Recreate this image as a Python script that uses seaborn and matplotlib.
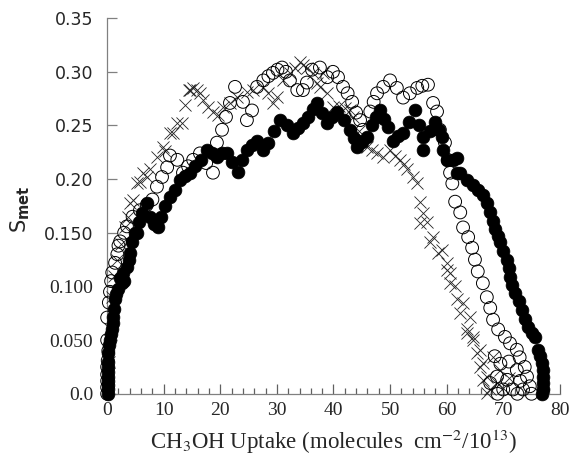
import matplotlib
matplotlib.use("Agg")
import matplotlib.pyplot as plt
from matplotlib.ticker import MultipleLocator
import seaborn as sns

# filled circles
filled_x = [0.1, 0.1, 0.1, 0.1, 0.1, 0.1, 0.2, 0.2, 0.2, 0.4, 0.5, 0.6, 0.9, 1.0, 1.1, 1.2, 1.4, 1.6,
            2.0, 2.6, 2.2, 2.8, 3.5, 3.0, 3.8, 4.1, 4.4, 4.9, 5.3, 5.6, 6.2, 7.1, 7.6, 8.2, 9.0, 9.5,
            10.2, 11.1, 12.0, 12.9, 13.8, 14.7, 15.6, 16.5, 17.7, 18.5, 19.4, 20.3, 21.2, 22.0, 23.1,
            23.8, 24.7, 25.6, 26.5, 27.6, 28.5, 29.5, 30.6, 31.7, 32.9, 33.7, 34.6, 35.5, 36.3, 37.1,
            38.0, 38.9, 39.7, 40.6, 41.8, 42.9, 43.6, 44.2, 45.0, 45.9, 46.8, 47.5, 48.2, 48.9, 49.6,
            50.5, 51.4, 52.3, 53.3, 54.4, 55.1, 55.8, 55.8, 57.0, 57.9, 58.6, 59.2, 59.4, 60.1, 61.1,
            61.8, 61.8, 62.4, 63.6, 64.7, 65.5, 66.4, 67.1, 67.7, 68.2, 68.6, 69.0, 69.4, 70.0, 70.7,
            71.0, 71.2, 71.6, 72.1, 72.7, 73.3, 73.9, 74.4, 75.0, 75.6, 76.1, 76.5, 76.9, 77.0, 77.0,
            77.0, 77.0, 76.8]
filled_y = [0.000, 0.004, 0.008, 0.012, 0.016, 0.020, 0.025, 0.030, 0.038, 0.045, 0.050, 0.056, 0.060,
            0.066, 0.072, 0.079, 0.088, 0.093, 0.098, 0.103, 0.108, 0.113, 0.118, 0.105, 0.125, 0.131,
            0.141, 0.150, 0.150, 0.160, 0.168, 0.178, 0.165, 0.158, 0.155, 0.165, 0.175, 0.183, 0.190,
            0.199, 0.203, 0.206, 0.212, 0.218, 0.227, 0.224, 0.221, 0.224, 0.224, 0.216, 0.207, 0.218,
            0.227, 0.232, 0.236, 0.227, 0.234, 0.245, 0.255, 0.250, 0.243, 0.248, 0.252, 0.258, 0.265,
            0.271, 0.262, 0.252, 0.258, 0.263, 0.255, 0.246, 0.238, 0.230, 0.235, 0.239, 0.250, 0.258,
            0.264, 0.256, 0.249, 0.236, 0.240, 0.243, 0.253, 0.264, 0.250, 0.239, 0.227, 0.245, 0.253,
            0.246, 0.239, 0.227, 0.218, 0.218, 0.220, 0.206, 0.206, 0.199, 0.195, 0.190, 0.185, 0.178,
            0.169, 0.161, 0.154, 0.147, 0.141, 0.133, 0.125, 0.117, 0.109, 0.101, 0.094, 0.086, 0.078,
            0.070, 0.062, 0.057, 0.053, 0.041, 0.035, 0.029, 0.022, 0.016, 0.010, 0.004, 0.000]

# open circles
open_x = [0.0, 0.0, 0.0, 0.0, 0.0, 0.1, 0.2, 0.0, 0.0, 0.3, 0.5, 0.7, 0.9, 1.4, 1.8, 2.3, 2.0, 3.0,
          3.5, 4.5, 5.8, 7.0, 8.0, 8.8, 9.7, 10.6, 11.1, 12.4, 13.4, 14.3, 15.2, 16.4, 17.5, 18.7,
          19.4, 20.3, 21.0, 21.7, 22.6, 24.0, 24.7, 25.6, 26.5, 27.6, 28.5, 29.3, 30.1, 30.9, 31.6,
          32.3, 33.6, 34.6, 35.3, 36.2, 37.6, 38.9, 39.9, 40.8, 41.7, 42.5, 43.3, 44.0, 44.7, 45.2,
          46.5, 47.1, 47.7, 48.8, 50.0, 51.2, 52.3, 53.5, 54.8, 55.7, 56.7, 57.6, 58.3, 58.8, 59.7,
          60.2, 60.6, 61.0, 61.5, 62.4, 62.9, 63.8, 64.5, 65.0, 65.5, 66.4, 67.1, 67.7, 68.2, 69.1,
          70.3, 71.2, 72.4, 72.9, 73.8, 74.2, 72.4, 70.7, 68.9, 71.7, 73.5, 70.0, 67.7, 74.7, 69.5,
          71.0, 68.5, 73.0, 75.0, 72.5, 69.0]
open_y = [0.000, 0.006, 0.012, 0.018, 0.025, 0.031, 0.040, 0.050, 0.071, 0.085, 0.095, 0.105, 0.113,
          0.122, 0.130, 0.142, 0.138, 0.150, 0.156, 0.165, 0.171, 0.176, 0.181, 0.193, 0.202, 0.211,
          0.222, 0.218, 0.206, 0.212, 0.218, 0.224, 0.215, 0.206, 0.234, 0.246, 0.258, 0.271, 0.286,
          0.272, 0.255, 0.264, 0.286, 0.292, 0.296, 0.299, 0.302, 0.304, 0.300, 0.292, 0.283, 0.283,
          0.290, 0.302, 0.304, 0.295, 0.300, 0.295, 0.286, 0.280, 0.272, 0.262, 0.255, 0.246, 0.263,
          0.272, 0.280, 0.286, 0.292, 0.285, 0.276, 0.280, 0.285, 0.287, 0.288, 0.271, 0.263, 0.246,
          0.234, 0.218, 0.206, 0.196, 0.179, 0.169, 0.155, 0.146, 0.136, 0.125, 0.114, 0.103, 0.090,
          0.080, 0.069, 0.060, 0.053, 0.047, 0.041, 0.034, 0.025, 0.016, 0.022, 0.013, 0.016, 0.004,
          0.004, 0.004, 0.010, 0.007, 0.028, 0.030, 0.035, 0.012, 0.000, 0.000, 0.000]

# crosses
cross_x = [0.3, 0.5, 0.8, 1.2, 1.8, 2.5, 3.2, 3.6, 4.1, 4.6, 5.3, 5.8, 6.4, 7.1, 7.6, 8.8, 9.9, 10.2,
           11.1, 11.7, 12.4, 13.3, 13.8, 14.4, 14.7, 15.2, 15.9, 16.4, 17.0, 17.8, 18.7, 19.6, 20.5,
           21.7, 23.0, 24.7, 25.8, 27.6, 28.5, 29.3, 30.0, 31.1, 32.3, 33.2, 34.1, 34.6, 35.3, 36.4,
           37.1, 37.6, 38.2, 38.8, 39.9, 41.0, 42.0, 42.9, 43.5, 44.5, 45.9, 46.8, 47.7, 48.8, 50.0,
           50.9, 51.8, 52.4, 53.0, 54.1, 54.8, 55.3, 55.3, 55.8, 56.5, 57.1, 57.6, 58.5, 59.2, 60.1,
           60.1, 60.6, 60.6, 61.5, 61.8, 62.4, 62.9, 63.6, 63.6, 64.1, 64.7, 64.7, 65.4, 65.9, 65.9,
           66.4, 66.4, 67.1, 67.1, 67.7, 68.2, 68.9, 69.4, 70.0, 71.0]
cross_y = [0.030, 0.060, 0.090, 0.110, 0.125, 0.140, 0.155, 0.165, 0.178, 0.181, 0.196, 0.197, 0.206,
           0.202, 0.209, 0.221, 0.230, 0.226, 0.243, 0.243, 0.252, 0.252, 0.269, 0.283, 0.283, 0.285,
           0.283, 0.280, 0.274, 0.267, 0.263, 0.260, 0.267, 0.271, 0.277, 0.281, 0.283, 0.286, 0.280,
           0.271, 0.277, 0.292, 0.299, 0.304, 0.309, 0.306, 0.304, 0.299, 0.290, 0.286, 0.299, 0.280,
           0.267, 0.268, 0.266, 0.264, 0.258, 0.245, 0.230, 0.227, 0.224, 0.221, 0.227, 0.222, 0.218,
           0.214, 0.209, 0.202, 0.196, 0.179, 0.159, 0.168, 0.160, 0.141, 0.146, 0.131, 0.134, 0.122,
           0.115, 0.113, 0.103, 0.100, 0.088, 0.075, 0.085, 0.060, 0.057, 0.072, 0.053, 0.050, 0.038,
           0.041, 0.025, 0.029, 0.013, 0.016, 0.001, 0.004, 0.034, 0.010, 0.022, 0.005, 0.015]

y_ticks = [0.0, 0.05, 0.10, 0.15, 0.20, 0.25, 0.30, 0.35]
y_tick_labels = ["0.0", "0.050", "0.100", "0.150", "0.20", "0.25", "0.30", "0.35"]
x_ticks = [0, 10, 20, 30, 40, 50, 60, 70, 80]

sns.set_style("white")
plt.rcParams["font.family"] = ["Liberation Serif", "DejaVu Serif"]

fig = plt.figure(figsize=(5.73, 4.66), dpi=100)
ax = fig.add_axes([0.187, 0.155, 0.79, 0.806])

sns.scatterplot(x=cross_x, y=cross_y, marker="x", s=75, color="#222222", linewidth=0.6,
                ax=ax, clip_on=False, zorder=3)
sns.scatterplot(x=open_x, y=open_y, marker="o", s=85, color="black", facecolor="none",
                edgecolor="black", linewidth=0.7, ax=ax, clip_on=False, zorder=4)
sns.scatterplot(x=filled_x, y=filled_y, marker="o", s=85, color="black", edgecolor="black",
                linewidth=0.5, ax=ax, clip_on=False, zorder=5)

ax.set_xlim(0, 80)
ax.set_ylim(0, 0.35)
ax.set_xticks(x_ticks)
ax.xaxis.set_minor_locator(MultipleLocator(2))
ax.set_yticks(y_ticks)
ax.set_yticklabels(y_tick_labels)
for lab, txt in zip(ax.get_yticklabels(), y_tick_labels):
    if txt in ("0.0", "0.050", "0.100"):
        lab.set_fontfamily(["Liberation Serif"])
        lab.set_fontsize(14)
    else:
        lab.set_fontfamily(["DejaVu Sans"])
        lab.set_fontsize(12.5)

sns.despine(ax=ax)
for side in ["left", "bottom"]:
    ax.spines[side].set_color("#808080")
    ax.spines[side].set_linewidth(0.9)

ax.tick_params(axis="y", which="major", left=True, direction="in", length=7, width=0.9,
               color="#808080", pad=10)
ax.tick_params(axis="x", which="major", bottom=True, direction="in", length=7, width=0.9,
               color="#606060", pad=6, labelsize=14)
ax.tick_params(axis="x", which="minor", bottom=True, direction="in", length=4, width=0.9,
               color="#606060")
ax.tick_params(axis="y", which="minor", left=False)

ax.set_xlabel("CH$_3$OH Uptake (molecules  cm$^{-2}$/10$^{13}$)", fontsize=16.5,
              math_fontfamily="stix", labelpad=6)
ax.set_ylabel("S$_{\\mathbf{met}}$", fontsize=15, family=["DejaVu Sans"],
              math_fontfamily="dejavusans")
ax.yaxis.set_label_coords(-0.165, 0.49)

fig.savefig("out.png", dpi=100)
